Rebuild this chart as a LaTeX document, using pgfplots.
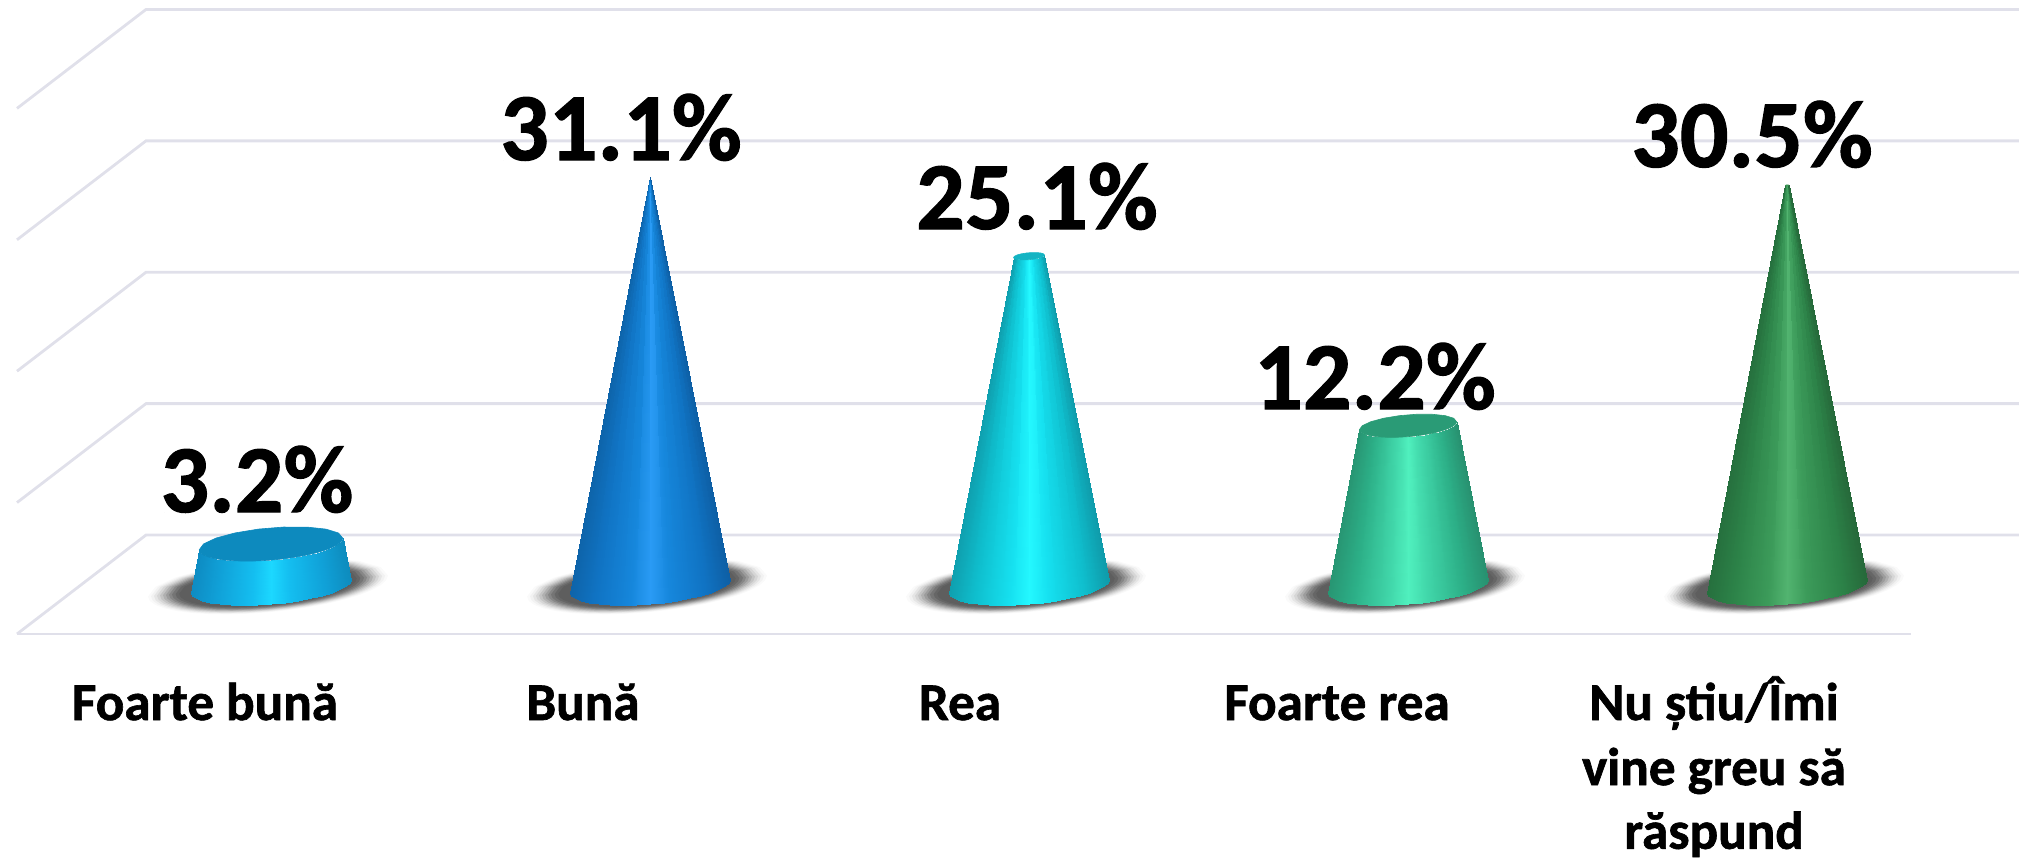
\documentclass[border=0pt]{standalone}
\usepackage{fontspec}
\setmainfont[BoldFeatures={FakeBold=1.2}]{Carlito}
\usepackage{pgfplots}
\usepackage{pgfplotstable}
\pgfplotsset{compat=1.18}
\definecolor{gridc}{RGB}{224,224,234}
\definecolor{cap1}{RGB}{13,138,190}
\definecolor{cap2}{RGB}{22,120,200}
\definecolor{cap3}{RGB}{20,180,195}
\definecolor{cap4}{RGB}{42,155,118}
\definecolor{cap5}{RGB}{60,150,85}
\pgfplotsset{
 colormap={c1}{rgb255(0cm)=(14,140,195) rgb255(15cm)=(16,160,215) rgb255(38cm)=(20,190,240) rgb255(50cm)=(28,216,255) rgb255(62cm)=(20,190,240) rgb255(85cm)=(16,160,215) rgb255(100cm)=(14,140,190)},
 colormap={c2}{rgb255(0cm)=(14,100,170) rgb255(15cm)=(16,115,195) rgb255(38cm)=(22,135,220) rgb255(50cm)=(42,155,245) rgb255(62cm)=(22,135,220) rgb255(85cm)=(16,115,195) rgb255(100cm)=(14,95,165)},
 colormap={c3}{rgb255(0cm)=(15,160,175) rgb255(15cm)=(15,190,205) rgb255(38cm)=(22,225,240) rgb255(50cm)=(36,248,255) rgb255(62cm)=(22,225,240) rgb255(85cm)=(15,190,205) rgb255(100cm)=(15,155,170)},
 colormap={c4}{rgb255(0cm)=(40,150,115) rgb255(15cm)=(44,175,135) rgb255(38cm)=(65,215,170) rgb255(50cm)=(80,240,190) rgb255(62cm)=(65,215,170) rgb255(85cm)=(44,175,135) rgb255(100cm)=(40,145,112)},
 colormap={c5}{rgb255(0cm)=(38,112,62) rgb255(15cm)=(44,130,72) rgb255(38cm)=(60,155,90) rgb255(50cm)=(82,180,112) rgb255(62cm)=(60,155,90) rgb255(85cm)=(44,130,72) rgb255(100cm)=(38,105,58)},
}
\pgfplotstableread{
c s lev f
-1 0 0 0
-1 0 1 0
-.985 .174 0 .0075
-.985 .174 1 .0075
-.94 .342 0 .03
-.94 .342 1 .03
-.866 .5 0 .067
-.866 .5 1 .067
-.766 .643 0 .117
-.766 .643 1 .117
-.643 .766 0 .179
-.643 .766 1 .179
-.5 .866 0 .25
-.5 .866 1 .25
-.342 .94 0 .329
-.342 .94 1 .329
-.174 .985 0 .413
-.174 .985 1 .413
0 1 0 .5
0 1 1 .5
.174 .985 0 .587
.174 .985 1 .587
.342 .94 0 .671
.342 .94 1 .671
.5 .866 0 .75
.5 .866 1 .75
.643 .766 0 .821
.643 .766 1 .821
.766 .643 0 .883
.766 .643 1 .883
.866 .5 0 .933
.866 .5 1 .933
.94 .342 0 .97
.94 .342 1 .97
.985 .174 0 .9925
.985 .174 1 .9925
1 0 0 1
1 0 1 1
}\sidetab
\pgfplotstableread{
c s
-1 0
-.985 .174
-.94 .342
-.866 .5
-.766 .643
-.643 .766
-.5 .866
-.342 .94
-.174 .985
0 1
.174 .985
.342 .94
.5 .866
.643 .766
.766 .643
.866 .5
.94 .342
.985 .174
1 0
.94 -.342
.766 -.643
.5 -.866
.174 -.985
-.174 -.985
-.5 -.866
-.766 -.643
-.94 -.342
}\circtab
% data: position, value, colormap, cap
\newcommand{\cone}[4]{%
 \addplot[surf, shader=interp, colormap name=#3, mesh/cols=2, point meta=explicit]
  table[x expr={#1+80*\thisrow{c}*(1-\thisrow{lev}*#2/31.1)},
        y expr={\thisrow{lev}*#2+(0.495*\thisrow{c}-1.37*\thisrow{s})*(1-\thisrow{lev}*#2/31.1)},
        meta=f]{\sidetab};
 \addplot[fill=#4, draw=#4, line width=0.3pt, forget plot]
  table[x expr={#1+80*\thisrow{c}*(1-#2/31.1)},
        y expr={#2+(0.495*\thisrow{c}-1.37*\thisrow{s})*(1-#2/31.1)}]{\circtab} -- cycle;
}
\newcommand{\ring}[3]{%
 \addplot[fill=black!#3, draw=none, forget plot]
  table[x expr={#1+120*#2*\thisrow{c}},
        y expr={#2*(0.80*\thisrow{c}-2.0*\thisrow{s})}]{\circtab} -- cycle;
}
\newcommand{\shadow}[1]{%
 \ring{#1}{1.00}{2}\ring{#1}{0.975}{5}\ring{#1}{0.95}{10}\ring{#1}{0.925}{16}
 \ring{#1}{0.90}{23}\ring{#1}{0.875}{31}\ring{#1}{0.85}{39}\ring{#1}{0.825}{47}
 \ring{#1}{0.80}{54}\ring{#1}{0.77}{60}\ring{#1}{0.74}{63}
}
\begin{document}
\begin{tikzpicture}
\useasboundingbox (0,0) rectangle (1009.5pt,429pt);
\begin{axis}[
  at={(0,0)}, anchor=south west,
  scale only axis, width=1009.5pt, height=429pt,
  xmin=0, xmax=2019, ymin=-20.70, ymax=44.60,
  hide axis, point meta min=0, point meta max=1,
]
% floor and wall grid
\addplot[gridc, line width=1.4pt] coordinates {(17,36.35) (146,43.88) (2019,43.88)};
\addplot[gridc, line width=1.4pt] coordinates {(17,26.35) (146,33.88) (2019,33.88)};
\addplot[gridc, line width=1.4pt] coordinates {(17,16.35) (146,23.88) (2019,23.88)};
\addplot[gridc, line width=1.4pt] coordinates {(17,6.35) (146,13.88) (2019,13.88)};
\addplot[gridc, line width=1.4pt] coordinates {(17,-3.65) (146,3.88) (2019,3.88)};
\addplot[gridc, line width=1.4pt] coordinates {(17,-3.65) (1911,-3.65)};
\shadow{268}\shadow{647}\shadow{1026}\shadow{1405}\shadow{1784}
\cone{271}{3.2}{c1}{cap1}
\cone{650}{31.1}{c2}{cap2}
\cone{1029}{25.1}{c3}{cap3}
\cone{1408}{12.2}{c4}{cap4}
\cone{1787}{30.5}{c5}{cap5}
% value labels
\begin{scope}[every node/.style={anchor=base, font=\bfseries\fontsize{48}{48}\selectfont, text=black, inner sep=0pt}]
\node at (axis cs:257,5.63) {3.2\%};
\node at (axis cs:621,32.42) {31.1\%};
\node at (axis cs:1037,27.17) {25.1\%};
\node at (axis cs:1375,13.47) {12.2\%};
\node at (axis cs:1752,31.89) {30.5\%};
\end{scope}
% category labels
\begin{scope}[every node/.style={anchor=base, font=\bfseries\fontsize{26.6}{31.5}\selectfont, text=black, inner sep=0pt}]
\node at (axis cs:205,-10.2) {Foarte bună};
\node at (axis cs:583,-10.2) {Bună};
\node at (axis cs:960,-10.2) {Rea};
\node at (axis cs:1337,-10.2) {Foarte rea};
\node at (axis cs:1714,-10.2) {Nu știu/Îmi};
\node at (axis cs:1714,-15.15) {vine greu să};
\node at (axis cs:1714,-20.0) {răspund};
\end{scope}
\end{axis}
\end{tikzpicture}
\end{document}
